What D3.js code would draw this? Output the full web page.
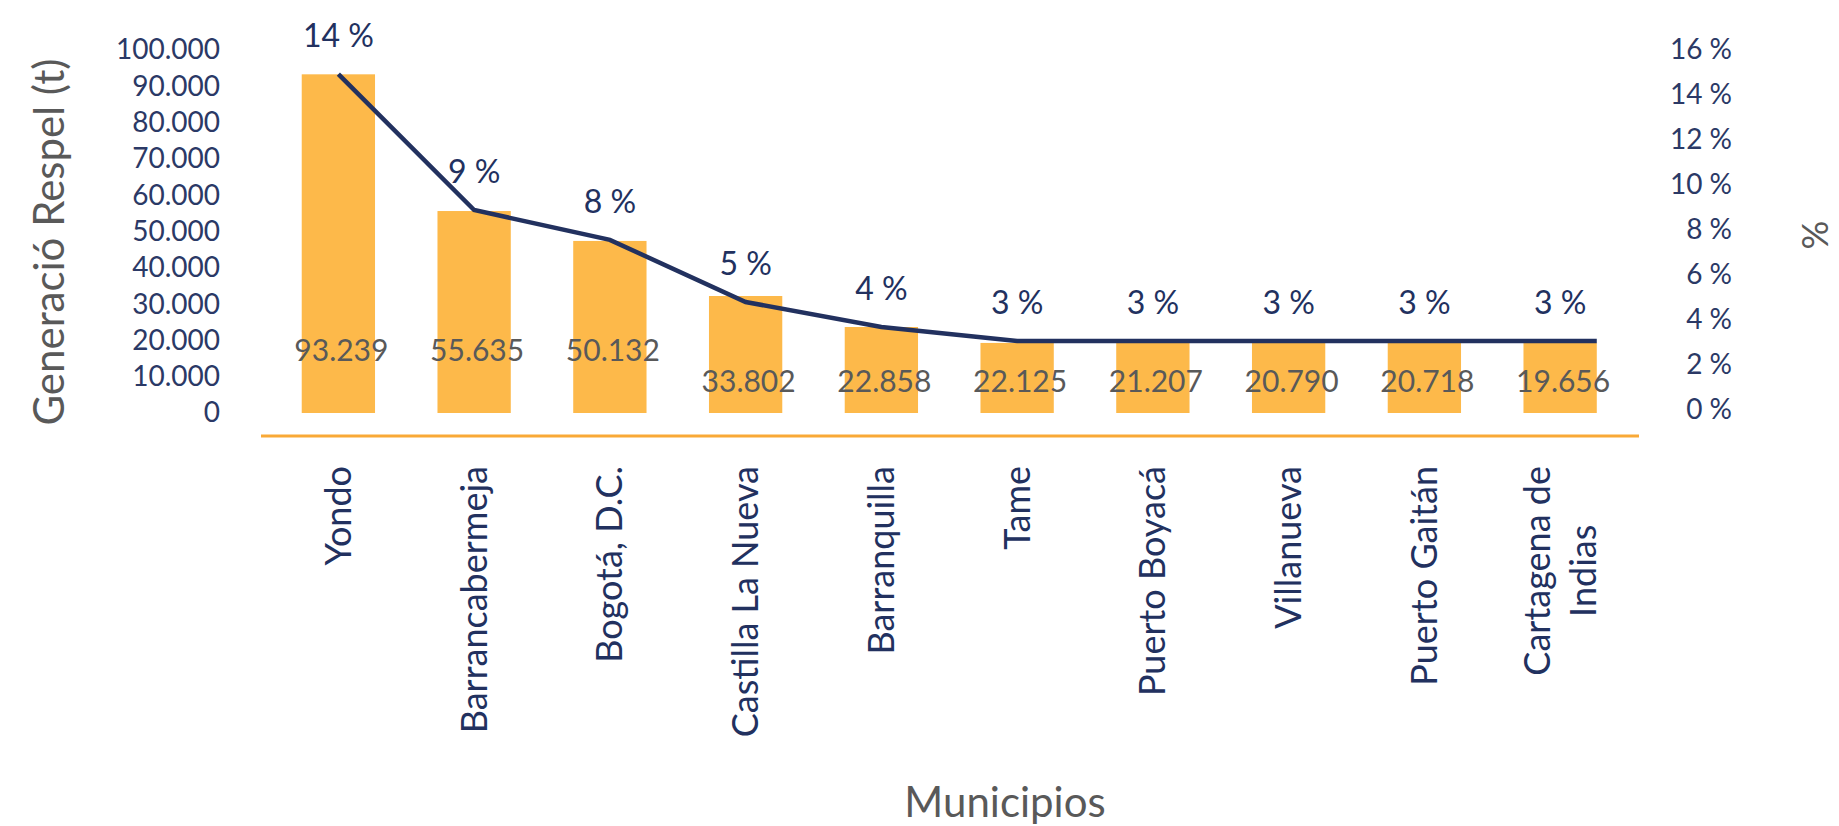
<!DOCTYPE html>
<html>
<head>
<meta charset="utf-8">
<script src="https://cdn.jsdelivr.net/npm/d3@7"></script>
<style>
  body { margin: 0; background: #fff; }
  text { font-family: Lato, sans-serif; }
</style>
</head>
<body>
<div id="chart"></div>
<script>
// data
var municipios = ["Yondo", "Barrancabermeja", "Bogotá, D.C.", "Castilla La Nueva", "Barranquilla",
  "Tame", "Puerto Boyacá", "Villanueva", "Puerto Gaitán", "Cartagena de\nIndias"];
// bar heights as drawn in the picture (t)
var barValues = [93300, 55640, 47400, 32230, 23690, 19300, 19300, 19300, 19300, 19300];
// data labels as printed on the bars
var valueLabels = ["93.239", "55.635", "50.132", "33.802", "22.858", "22.125", "21.207", "20.790", "20.718", "19.656"];
var porcentaje = [14.93, 8.89, 7.56, 4.8, 3.69, 3.07, 3.07, 3.07, 3.07, 3.07];
var pctLabels = ["14 %", "9 %", "8 %", "5 %", "4 %", "3 %", "3 %", "3 %", "3 %", "3 %"];
var leftTicks = [0, 10000, 20000, 30000, 40000, 50000, 60000, 70000, 80000, 90000, 100000];
var rightTicks = [0, 2, 4, 6, 8, 10, 12, 14, 16];

var W = 1839, H = 826;
var barColor = "#FDB94A", baseColor = "#F9A937", lineColor = "#22315F",
    tickColor = "#2B3966", greyText = "#595959";

var svg = d3.select("#chart").append("svg")
  .attr("width", W).attr("height", H);

var data = municipios.map(function(m, i){
  return {name: m, value: barValues[i], vlabel: valueLabels[i], pct: porcentaje[i], label: pctLabels[i]};
});

var x = d3.scaleBand()
  .domain(municipios)
  .range([270.5, 1628])
  .paddingInner(0.46)
  .paddingOuter(0.23);

var yLeft = d3.scaleLinear().domain([0, 100000]).range([413, 50]);
var yRight = d3.scaleLinear().domain([0, 16]).range([410, 50]);

var loc = d3.formatLocale({decimal: ",", thousands: ".", grouping: [3], currency: ["", ""]});
var fmtThousands = loc.format(",");

// left axis
var gl = svg.append("g").attr("transform", "translate(220,0)")
  .call(d3.axisLeft(yLeft).tickValues(leftTicks).tickSize(0).tickPadding(0).tickFormat(fmtThousands));
gl.select(".domain").remove();
gl.selectAll("text").attr("fill", tickColor).style("font-size", "28px").style("font-family", "Lato");

// right axis
var gr = svg.append("g").attr("transform", "translate(1732,0)")
  .call(d3.axisLeft(yRight).tickValues(rightTicks).tickSize(0).tickPadding(0).tickFormat(function(d){ return d + " %"; }));
gr.select(".domain").remove();
gr.selectAll("text").attr("fill", tickColor).style("font-size", "28px").style("font-family", "Lato");

// bars
svg.append("g").selectAll("rect")
  .data(data).enter().append("rect")
  .attr("x", function(d){ return x(d.name); })
  .attr("width", x.bandwidth())
  .attr("y", function(d){ return yLeft(d.value); })
  .attr("height", function(d){ return yLeft(0) - yLeft(d.value); })
  .attr("fill", barColor);

// baseline
svg.append("line")
  .attr("x1", 261).attr("x2", 1639)
  .attr("y1", 436).attr("y2", 436)
  .attr("stroke", baseColor).attr("stroke-width", 3);

// value labels
svg.append("g").selectAll("text")
  .data(data).enter().append("text")
  .attr("x", function(d){ return x(d.name) + x.bandwidth()/2 + 3; })
  .attr("y", function(d){ return d.value > 40000 ? yLeft(0) - 63 : yLeft(0) - 32; })
  .attr("dy", "0.35em")
  .attr("text-anchor", "middle")
  .attr("fill", greyText)
  .style("font-size", "30px")
  .text(function(d){ return d.vlabel; });

// percentage line (the last segment runs on to the right edge of the last bar)
var lineData = data.map(function(d){ return {name: d.name, pct: d.pct, dx: x.bandwidth()/2}; });
var last = data[data.length - 1];
lineData.push({name: last.name, pct: last.pct, dx: x.bandwidth()});

var line = d3.line()
  .x(function(d){ return x(d.name) + d.dx; })
  .y(function(d){ return yRight(d.pct); });

svg.append("path")
  .datum(lineData)
  .attr("d", line)
  .attr("fill", "none")
  .attr("stroke", lineColor)
  .attr("stroke-width", 4.5);

svg.append("g").selectAll("text")
  .data(data).enter().append("text")
  .attr("x", function(d){ return x(d.name) + x.bandwidth()/2; })
  .attr("y", function(d){ return yRight(d.pct) - 38; })
  .attr("dy", "0.35em")
  .attr("text-anchor", "middle")
  .attr("fill", lineColor)
  .style("font-size", "32px")
  .text(function(d){ return d.label; });

// category labels, rotated
var catTop = 466, lineGap = 46;
data.forEach(function(d){
  var lines = d.name.split("\n");
  var cx = x(d.name) + x.bandwidth()/2;
  var g = svg.append("g");
  var texts = lines.map(function(t){
    return g.append("text")
      .attr("fill", lineColor)
      .style("font-size", "36px")
      .attr("text-anchor", "middle")
      .attr("dy", "0.35em")
      .text(t);
  });
  var maxLen = d3.max(texts, function(t){ return t.node().getComputedTextLength(); });
  var cy = catTop + maxLen/2;
  texts.forEach(function(t, i){
    var off = (i - (lines.length - 1)/2) * lineGap;
    t.attr("transform", "translate(" + (cx + off) + "," + cy + ") rotate(-90)");
  });
});

// axis titles
svg.append("text")
  .attr("transform", "translate(49,242) rotate(-90)")
  .attr("text-anchor", "middle").attr("dy", "0.35em")
  .attr("fill", greyText).style("font-size", "42px")
  .text("Generació Respel (t)");

svg.append("text")
  .attr("transform", "translate(1815,235) rotate(-90)")
  .attr("text-anchor", "middle").attr("dy", "0.35em")
  .attr("fill", greyText).style("font-size", "36px")
  .text("%");

svg.append("text")
  .attr("x", 1005).attr("y", 817)
  .attr("text-anchor", "middle")
  .attr("fill", greyText).style("font-size", "42px")
  .text("Municipios");
</script>
</body>
</html>
